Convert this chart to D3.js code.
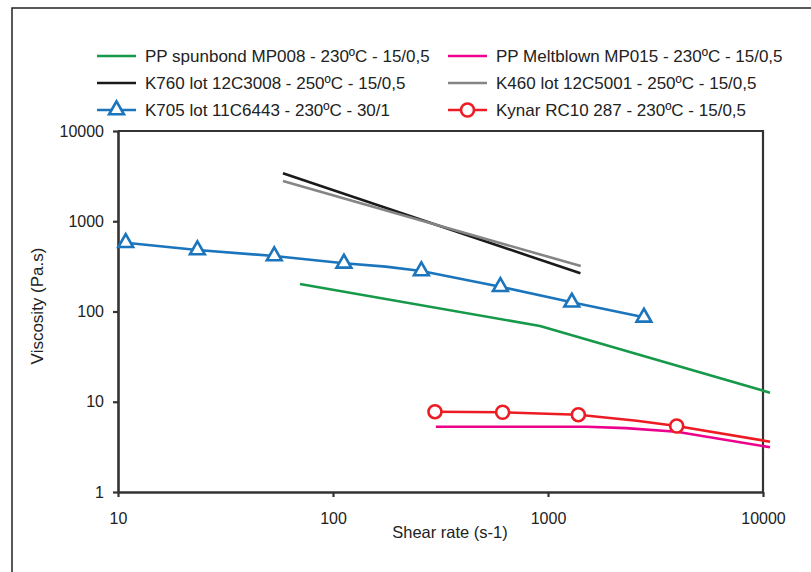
<!DOCTYPE html>
<html>
<head>
<meta charset="utf-8">
<script src="https://cdn.jsdelivr.net/npm/d3@7"></script>
<style>
  body { margin: 0; background: #fff; }
  svg { display: block; font-family: "Liberation Sans", Arial, sans-serif; }
</style>
</head>
<body>
<svg width="811" height="572"></svg>
<script>
// shear rate (s-1) / viscosity (Pa.s)
var spunX = [70.2, 918, 10780];
var spunY = [202, 69.1, 12.6];

var meltX = [301, 1514, 2300, 3968, 10780];
var meltY = [5.29, 5.29, 5.1, 4.66, 3.13];

var k760X = [58.5, 1415];
var k760Y = [3398, 265];

var k460X = [58.5, 1420];
var k460Y = [2792, 319];

var k705X = [10.86, 23.4, 53.3, 112.4, 175.8, 257.6, 600.6, 1290, 2793];
var k705Y = [578, 480, 412, 342, 314, 281, 188, 126.5, 86.2];
var k705Marked = [1, 1, 1, 1, 0, 1, 1, 1, 1];

var kynarX = [298, 615, 1384, 2585, 3968, 10780];
var kynarY = [7.76, 7.64, 7.19, 6.17, 5.39, 3.61];
var kynarMarked = [1, 1, 1, 0, 1, 0];

var xTicks = [10, 100, 1000, 10000];
var yTicks = [1, 10, 100, 1000, 10000];

var series = [
  {name: "PP spunbond MP008 - 230ºC - 15/0,5", xs: spunX, ys: spunY, color: "#17994a"},
  {name: "PP Meltblown MP015 - 230ºC - 15/0,5", xs: meltX, ys: meltY, color: "#ec008c"},
  {name: "K760 lot 12C3008 - 250ºC - 15/0,5", xs: k760X, ys: k760Y, color: "#1a1a1a"},
  {name: "K460 lot 12C5001 - 250ºC - 15/0,5", xs: k460X, ys: k460Y, color: "#858585"},
  {name: "K705 lot 11C6443 - 230ºC - 30/1", xs: k705X, ys: k705Y, color: "#1b75bc", marker: "triangle", marked: k705Marked},
  {name: "Kynar RC10 287 - 230ºC - 15/0,5", xs: kynarX, ys: kynarY, color: "#ed1c24", marker: "circle", marked: kynarMarked}
];

var svg = d3.select("svg"),
    margin = {top: 131, right: 48, bottom: 80, left: 118},
    width = +svg.attr("width") - margin.left - margin.right,
    height = +svg.attr("height") - margin.top - margin.bottom;

// outer frame (only top and left edges show)
svg.append("path")
  .attr("d", "M12,572V8H811")
  .attr("fill", "none")
  .attr("stroke", "#222")
  .attr("stroke-width", 1.5);

var g = svg.append("g").attr("transform", "translate(" + margin.left + "," + margin.top + ")");

var x = d3.scaleLog().domain([10, 10000]).range([0, width]);
var y = d3.scaleLog().domain([1, 10000]).range([height, 0]);

// top and right edges of the plot box
g.append("path")
  .attr("d", "M0,0H" + width + "V" + height)
  .attr("fill", "none")
  .attr("stroke", "#333")
  .attr("stroke-width", 2.2);

var xAxis = g.append("g")
  .attr("transform", "translate(0," + height + ")")
  .call(d3.axisBottom(x).tickValues(xTicks).tickFormat(d3.format("d")).tickSize(5).tickSizeOuter(0).tickPadding(15.5));

var yAxis = g.append("g")
  .call(d3.axisLeft(y).tickValues(yTicks).tickFormat(d3.format("d")).tickSize(5).tickSizeOuter(0).tickPadding(9));

[xAxis, yAxis].forEach(function(a) {
  a.select(".domain").attr("stroke", "#333").attr("stroke-width", 2.6);
  a.selectAll(".tick line").attr("stroke", "#333").attr("stroke-width", 2.2);
  a.selectAll(".tick text").attr("fill", "#222").style("font-size", "16px").style("font-family", "Liberation Sans, Arial, sans-serif");
});

svg.append("text")
  .attr("x", 450).attr("y", 538)
  .attr("text-anchor", "middle")
  .attr("fill", "#222")
  .style("font-size", "16.5px")
  .text("Shear rate (s-1)");

svg.append("text")
  .attr("transform", "translate(43,306) rotate(-90)")
  .attr("text-anchor", "middle")
  .attr("fill", "#222")
  .style("font-size", "17px")
  .text("Viscosity (Pa.s)");

var line = d3.line()
  .x(function(d) { return x(d[0]); })
  .y(function(d) { return y(d[1]); });

function drawMarker(sel, s, cx, cy) {
  if (s.marker === "triangle") {
    sel.append("path")
      .attr("transform", "translate(" + cx + "," + cy + ")")
      .attr("d", d3.symbol(d3.symbolTriangle, 95)())
      .attr("fill", "#fff")
      .attr("stroke", s.color)
      .attr("stroke-width", 2.6);
  } else if (s.marker === "circle") {
    sel.append("circle")
      .attr("cx", cx).attr("cy", cy).attr("r", 6.5)
      .attr("fill", "#fff")
      .attr("stroke", s.color)
      .attr("stroke-width", 2.6);
  }
}

series.forEach(function(s) {
  var pts = s.xs.map(function(v, i) { return [v, s.ys[i]]; });
  g.append("path")
    .datum(pts)
    .attr("fill", "none")
    .attr("stroke", s.color)
    .attr("stroke-width", 2.6)
    .attr("stroke-linejoin", "round")
    .attr("d", line);
  if (s.marker) {
    pts.forEach(function(p, i) {
      if (s.marked[i]) drawMarker(g, s, x(p[0]), y(p[1]));
    });
  }
});

// legend, two columns of three rows
var legend = svg.append("g");
series.forEach(function(s, i) {
  var col = i % 2, row = Math.floor(i / 2);
  var lx = col ? 448 : 97, ly = 56 + row * 27;
  var item = legend.append("g");
  item.append("line")
    .attr("x1", lx).attr("x2", lx + 39)
    .attr("y1", ly).attr("y2", ly)
    .attr("stroke", s.color)
    .attr("stroke-width", 2.6);
  drawMarker(item, s, lx + 19.5, ly);
  item.append("text")
    .attr("x", lx + 48).attr("y", ly)
    .attr("dy", "0.35em")
    .attr("fill", "#222")
    .style("font-size", "17px")
    .text(s.name);
});
</script>
</body>
</html>
